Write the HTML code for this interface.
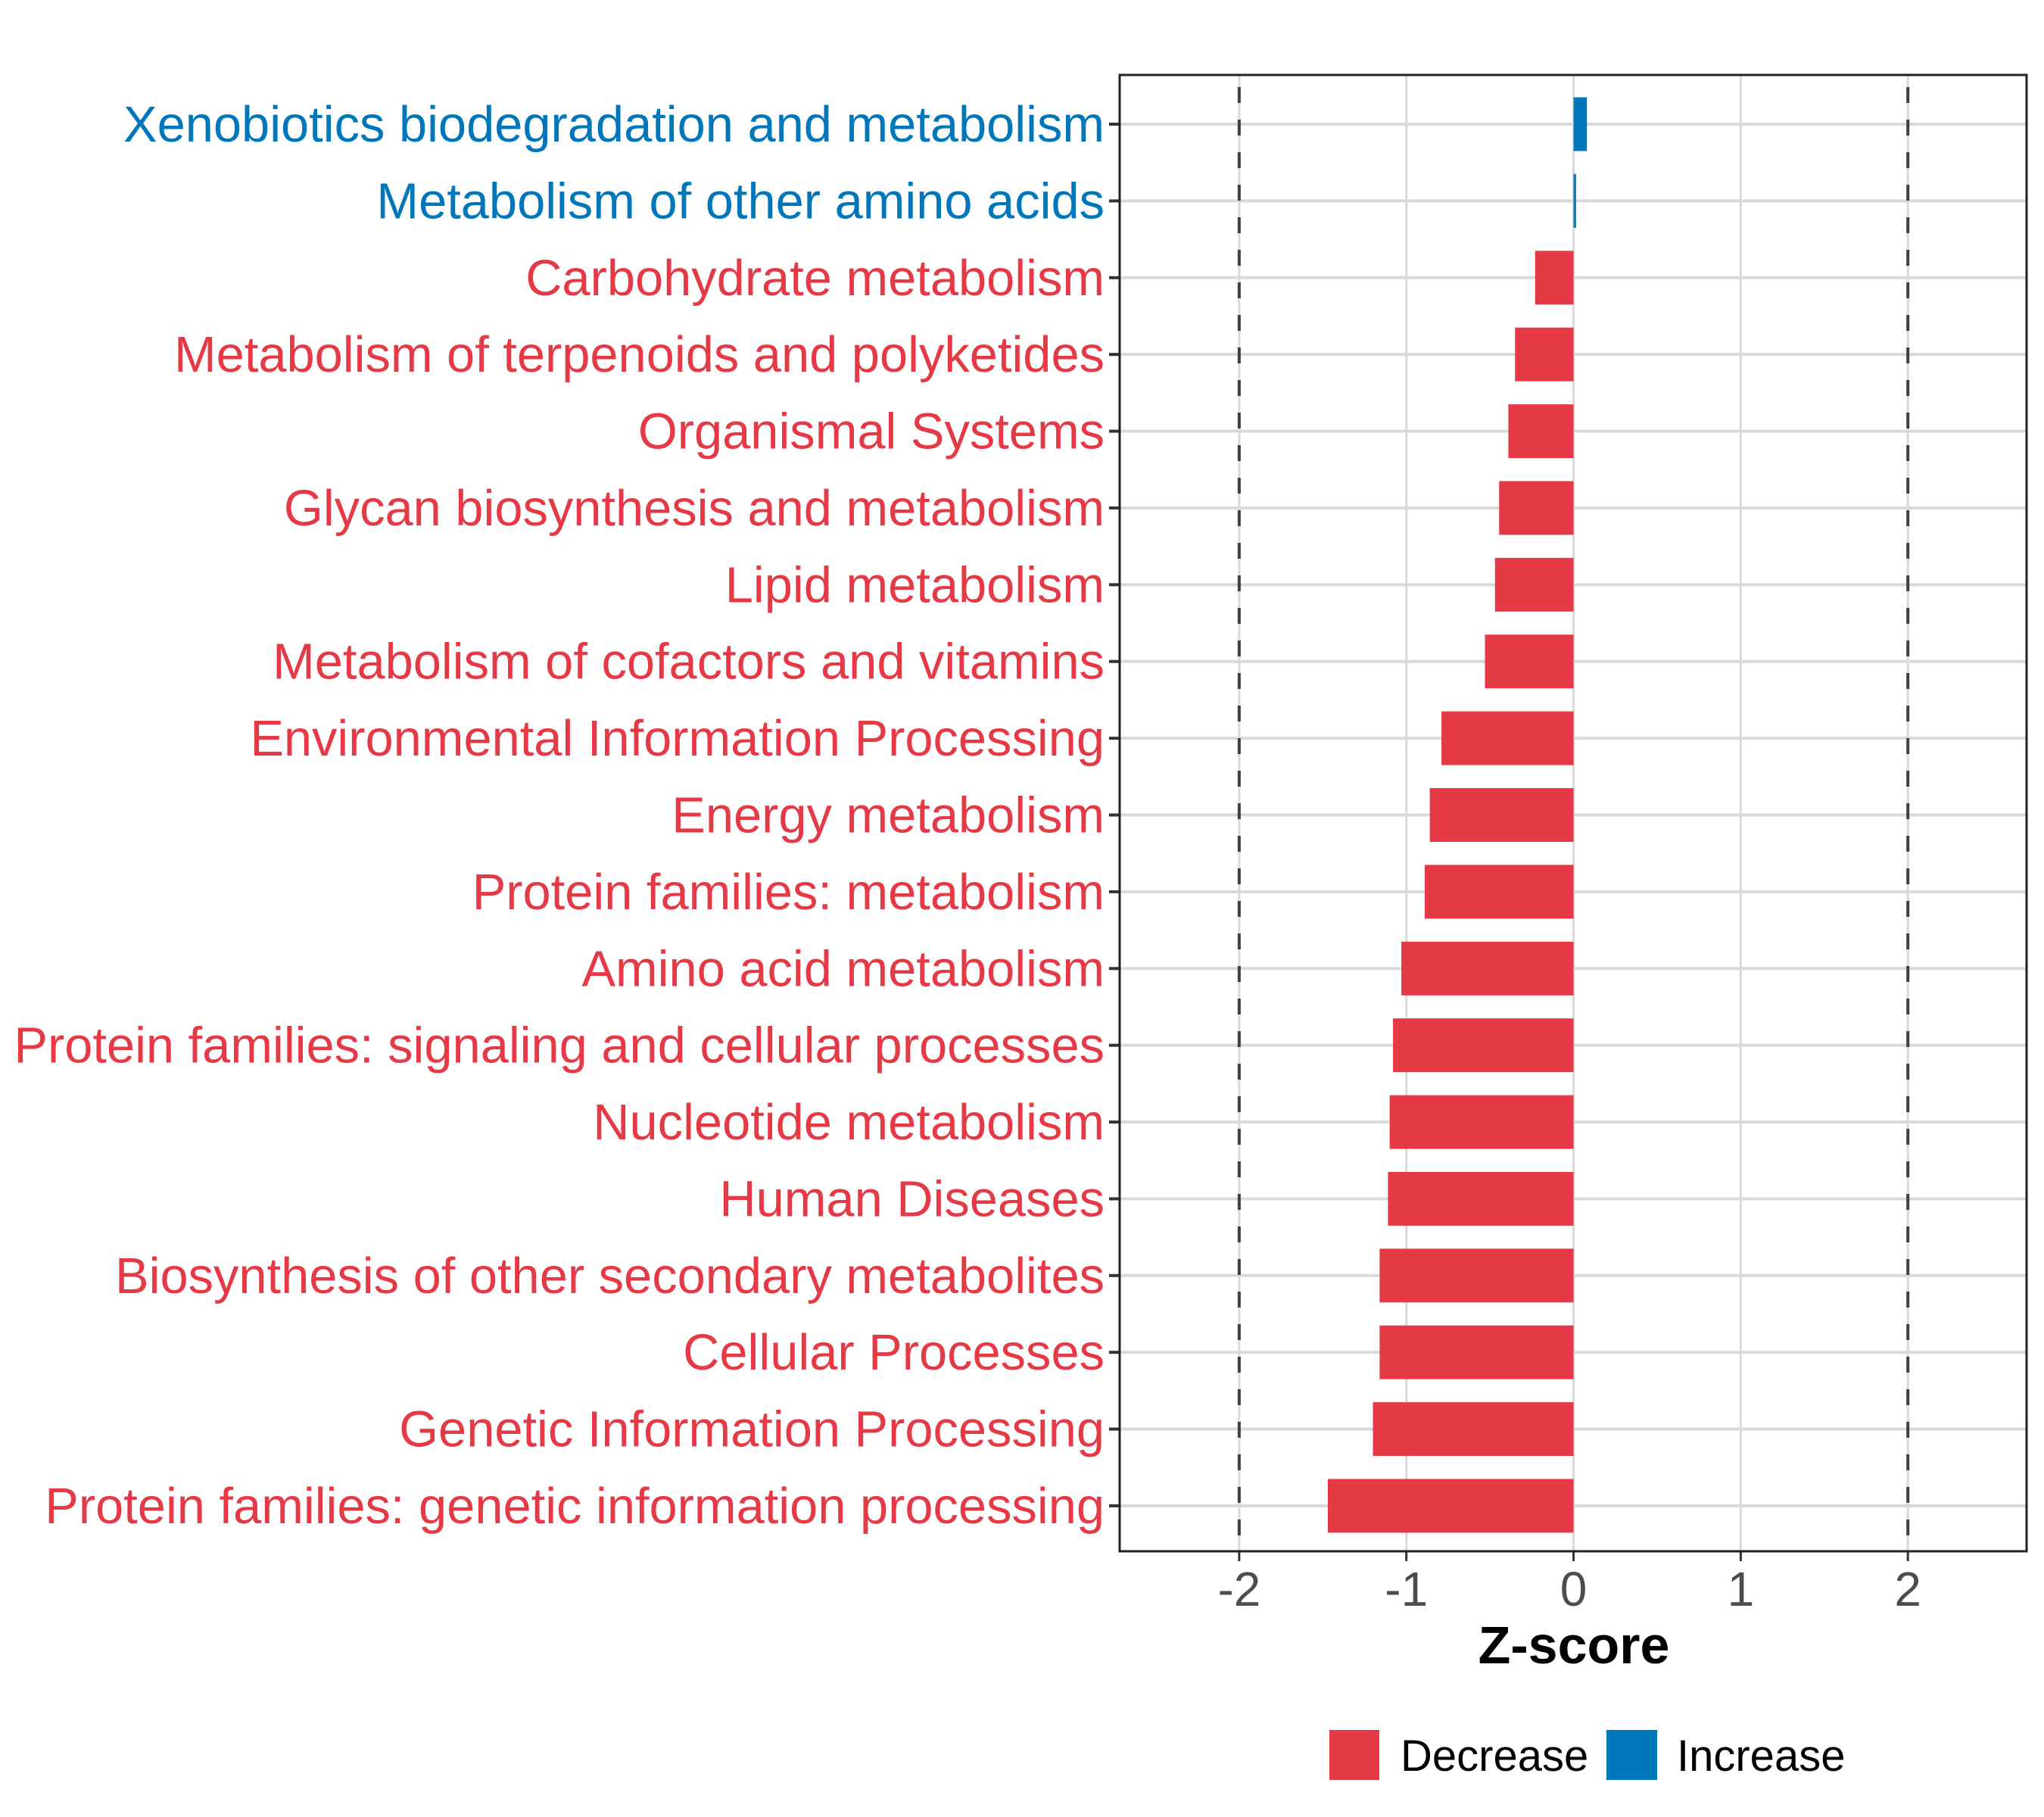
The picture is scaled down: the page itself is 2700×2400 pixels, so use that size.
<!DOCTYPE html>
<html><head><meta charset="utf-8"><style>
html,body{margin:0;padding:0;background:#fff}
svg{display:block;font-family:"Liberation Sans",Arial,sans-serif}
</style></head><body>
<svg id="chart" width="2700" height="2400" viewBox="0 0 2700 2400">
<rect x="0" y="0" width="2700" height="2400" fill="#fff"/>
<g id="grid"></g><g id="bars"></g><g id="ylabels"></g><g id="xaxis"></g>
<rect x="1479" y="99" width="1198" height="1950" fill="none" stroke="#222" stroke-width="3"/>
<text x="2079" y="2197" text-anchor="middle" font-size="70" font-weight="bold" fill="#000">Z-score</text>
<g>
<rect x="1756" y="2285" width="66" height="66" fill="#E63946"/>
<text x="1850" y="2339" font-size="58" fill="#000">Decrease</text>
<rect x="2122" y="2285" width="67" height="66" fill="#0077BB"/>
<text x="2215" y="2339" font-size="58" fill="#000">Increase</text>
</g>
</svg>
<script>
const categories = ["Xenobiotics biodegradation and metabolism","Metabolism of other amino acids","Carbohydrate metabolism","Metabolism of terpenoids and polyketides","Organismal Systems","Glycan biosynthesis and metabolism","Lipid metabolism","Metabolism of cofactors and vitamins","Environmental Information Processing","Energy metabolism","Protein families: metabolism","Amino acid metabolism","Protein families: signaling and cellular processes","Nucleotide metabolism","Human Diseases","Biosynthesis of other secondary metabolites","Cellular Processes","Genetic Information Processing","Protein families: genetic information processing"];
const zscores = [0.08,0.015,-0.23,-0.35,-0.39,-0.445,-0.47,-0.53,-0.79,-0.86,-0.89,-1.03,-1.08,-1.10,-1.11,-1.16,-1.16,-1.20,-1.47];
const xTicks = [-2,-1,0,1,2];
const xTickLabels = ["-2","-1","0","1","2"];
const thresholds = [-2,2];

const NS="http://www.w3.org/2000/svg";
const L=1479,R=2677,T=99,B=2049;
const xMin=-2.715,xMax=2.71;
const xs=v=>L+(v-xMin)/(xMax-xMin)*(R-L);
const y0=164, rowGap=(1989-164)/(categories.length-1);
const ys=i=>y0+i*rowGap;
const bh=rowGap*0.7;
function mk(tag,attrs,parent){const e=document.createElementNS(NS,tag);for(const k in attrs)e.setAttribute(k,attrs[k]);parent.appendChild(e);return e;}
const grid=document.getElementById('grid'),bars=document.getElementById('bars'),yl=document.getElementById('ylabels'),xa=document.getElementById('xaxis');
xTicks.forEach((t,i)=>{
  const g=mk('line',{x1:xs(t),x2:xs(t),y1:T,y2:B,stroke:'#d9d9d9','stroke-width':3},grid);
  
  
  const tk=mk('line',{x1:xs(t),x2:xs(t),y1:B,y2:B+13,stroke:'#333','stroke-width':3},xa);
  
  
  const tl=mk('text',{x:xs(t),y:B+72,'text-anchor':'middle','font-size':64,fill:'#4d4d4d'},xa);
  tl.textContent=xTickLabels[i];
  
  
});
categories.forEach((c,i)=>{
  const y=ys(i);
  const g=mk('line',{x1:L,x2:R,y1:y,y2:y,stroke:'#d9d9d9','stroke-width':4},grid);
  
  
  const v=zscores[i];
  const col=v>=0?'#0077BB':'#E63946';
  const x1=Math.min(xs(0),xs(v)),w=Math.max(Math.abs(xs(v)-xs(0)),3);
  const b=mk('rect',{x:x1,y:y-bh/2,width:w,height:bh,fill:col},bars);
  
  
  const tk=mk('line',{x1:L-14,x2:L,y1:y,y2:y,stroke:'#333','stroke-width':4},yl);
  
  
  const t=mk('text',{x:L-20,y:y+23,'text-anchor':'end','font-size':66.8,fill:col},yl);
  t.textContent=c;
  
  
});
thresholds.forEach(t=>{
  const d=mk('line',{x1:xs(t),x2:xs(t),y1:T,y2:B,stroke:'#404040','stroke-width':4,'stroke-dasharray':'21 22','stroke-dashoffset':-16},bars);
  
  
});
</script>
</body></html>
